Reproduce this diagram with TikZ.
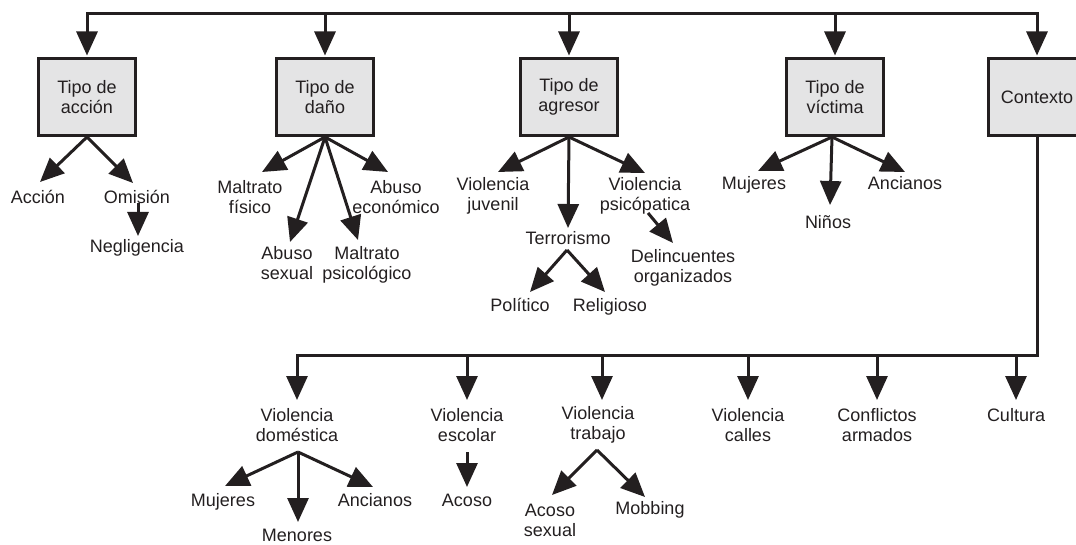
\documentclass[tikz,border=0pt]{standalone}
\usepackage{fontspec}
\setmainfont{Liberation Sans}
\usetikzlibrary{arrows.meta}
\definecolor{dk}{RGB}{35,31,32}
\definecolor{boxfill}{RGB}{228,228,229}
\newcommand\lone[1]{\strut #1}
\newcommand\ltwo[2]{\strut #1\\\strut #2}
\begin{document}
\begin{tikzpicture}[x=1pt,y=-1pt,
  lbl/.style={font=\fontsize{18}{20}\selectfont, align=center, inner sep=0pt, text=dk},
  catbox/.style={draw=dk, fill=boxfill, line width=3pt, minimum width=97pt, minimum height=77pt,
     inner sep=0pt, align=center, font=\fontsize{18}{20}\selectfont, text=dk},
  arr/.style={draw=dk, line width=3pt, -{Triangle[length=24pt,width=21pt]}},
  trunk/.style={draw=dk, line width=3pt, line cap=rect, line join=miter}]
\useasboundingbox (0,0) rectangle (1076,545);
\clip (0,0) rectangle (1076,545);

% category boxes
\node[catbox] (b1) at (87,97) {Tipo de\\acción};
\node[catbox] (b2) at (325,97) {Tipo de\\daño};
\node[catbox] (b3) at (569,97) {Tipo de\\agresor};
\node[catbox] (b4) at (835,97) {Tipo de\\víctima};
\node[catbox] (b5) at (1037,97) {Contexto};

% top distribution line
\coordinate (topL) at (87,14);
\coordinate (topR) at (1037,14);
\draw[trunk] (topL) -- (topR);
\foreach \b in {b1,b2,b3,b4,b5}
  \draw[arr, shorten >=1.5pt] (\b.north |- topL) -- (\b.north);

% labels level 1
\node[lbl] (accion) at (38,199.5) {\lone{Acción}};
\node[lbl] (omision) at (137,199.5) {\lone{Omisión}};
\node[lbl] (neglig) at (137,249) {\lone{Negligencia}};

\node[lbl] (mfisico) at (250,199.5) {\ltwo{Maltrato}{físico}};
\node[lbl] (asexual) at (287,265.5) {\ltwo{Abuso}{sexual}};
\node[lbl] (mpsico) at (367,265.5) {\ltwo{Maltrato}{psicológico}};
\node[lbl] (aecon) at (396,199.5) {\ltwo{Abuso}{económico}};

\node[lbl] (vjuv) at (493,196.5) {\ltwo{Violencia}{juvenil}};
\node[lbl] (terror) at (568,240.5) {\lone{Terrorismo}};
\node[lbl] (vpsic) at (645,196.5) {\ltwo{Violencia}{psicópatica}};
\node[lbl] (delinc) at (683,268.5) {\ltwo{Delincuentes}{organizados}};
\node[lbl] (polit) at (520,307.5) {\lone{Político}};
\node[lbl] (relig) at (610,307.5) {\lone{Religioso}};

\node[lbl] (vmuj) at (754,185.5) {\lone{Mujeres}};
\node[lbl] (vnin) at (828,224.5) {\lone{Niños}};
\node[lbl] (vanc) at (905,185.5) {\lone{Ancianos}};

% context labels
\node[lbl] (vdom) at (297,427.5) {\ltwo{Violencia}{doméstica}};
\node[lbl] (vesc) at (467,427.5) {\ltwo{Violencia}{escolar}};
\node[lbl] (vtrab) at (598,425) {\ltwo{Violencia}{trabajo}};
\node[lbl] (vcall) at (748,427.5) {\ltwo{Violencia}{calles}};
\node[lbl] (confl) at (877,427.5) {\ltwo{Conflictos}{armados}};
\node[lbl] (cult) at (1016,417.5) {\lone{Cultura}};

\node[lbl] (dmuj) at (223,502.5) {\lone{Mujeres}};
\node[lbl] (dmen) at (297,537) {\lone{Menores}};
\node[lbl] (danc) at (375,502.5) {\lone{Ancianos}};
\node[lbl] (acoso) at (467,502.5) {\lone{Acoso}};
\node[lbl] (acsex) at (550,522.5) {\ltwo{Acoso}{sexual}};
\node[lbl] (mobb) at (650,510.5) {\lone{Mobbing}};

% arrow tips and sources (named coordinates)
\coordinate (accT) at (40,182);
\coordinate (omT) at (133,183);
\coordinate (omS) at (138,203);
\coordinate (neT) at (138,236);
\coordinate (mfT) at (262,172);
\coordinate (asT) at (290,242);
\coordinate (mpT) at (358,240);
\coordinate (aeT) at (388,172);
\coordinate (vjT) at (498,172);
\coordinate (teT) at (568,228);
\coordinate (vpT) at (645,173);
\coordinate (vpS) at (648,213);
\coordinate (deT) at (673,243);
\coordinate (teS) at (567,250);
\coordinate (poT) at (530,292);
\coordinate (reT) at (605,292);
\coordinate (muT) at (758,171);
\coordinate (niT) at (830,205);
\coordinate (anT) at (905,172);

% type of action
\draw[arr] (b1.south) -- (accT);
\draw[arr] (b1.south) -- (omT);
\draw[arr] (omS) -- (neT);
% type of damage
\draw[arr] (b2.south) -- (mfT);
\draw[arr] (b2.south) -- (asT);
\draw[arr] (b2.south) -- (mpT);
\draw[arr] (b2.south) -- (aeT);
% type of aggressor
\draw[arr] (b3.south) -- (vjT);
\draw[arr] (b3.south) -- (teT);
\draw[arr] (b3.south) -- (vpT);
\draw[arr] (vpS) -- (deT);
\draw[arr] (teS) -- (poT);
\draw[arr] (teS) -- (reT);
% type of victim
\draw[arr] ([xshift=-3pt]b4.south) -- (muT);
\draw[arr] ([xshift=-3pt]b4.south) -- (niT);
\draw[arr] ([xshift=-3pt]b4.south) -- (anT);

% context trunk
\coordinate (bl) at (297,355);
\draw[trunk] (b5.south) -- (b5.south |- bl) -- (bl);
\foreach \x in {297,467,602,748,877,1016}
  \draw[arr] (\x,355) -- (\x,400);

% domestic violence
\coordinate (vdS) at (298,452);
\coordinate (dmT) at (225,486);
\coordinate (dmeT) at (298,522);
\coordinate (daT) at (373,487);
\draw[arr] (vdS) -- (dmT);
\draw[arr] (vdS) -- (dmeT);
\draw[arr] (vdS) -- (daT);
% school
\coordinate (veS) at (467,452);
\coordinate (acT) at (467,487);
\draw[arr] (veS) -- (acT);
% work
\coordinate (vtS) at (597,450);
\coordinate (atT) at (552,495);
\coordinate (moT) at (645,497);
\draw[arr] (vtS) -- (atT);
\draw[arr] (vtS) -- (moT);
\end{tikzpicture}
\end{document}
